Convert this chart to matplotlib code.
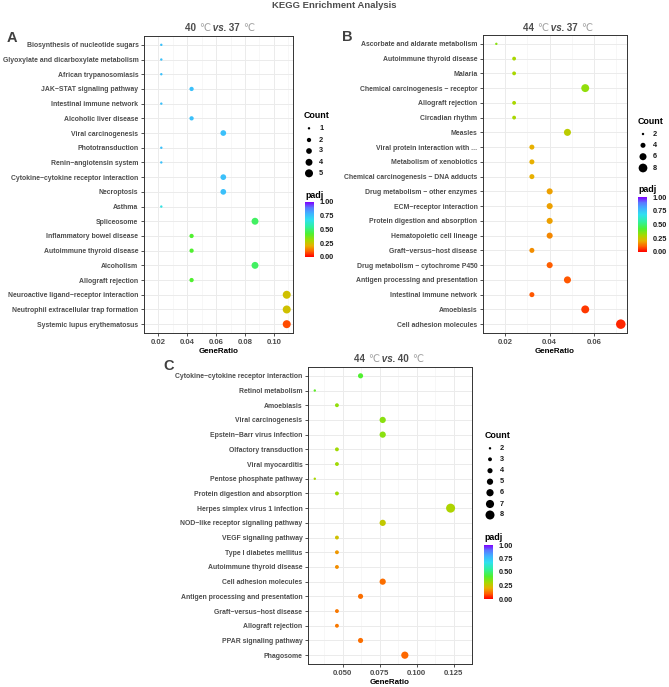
import matplotlib
matplotlib.use("Agg")
import matplotlib.pyplot as plt
import numpy as np
from matplotlib.cm import ScalarMappable
from matplotlib.colors import LinearSegmentedColormap, Normalize

W, H = 669, 687
GREY = "#4D4D4D"
plt.rcParams["font.family"] = ["Liberation Sans", "DejaVu Sans"]

# ---- panel A: 40 vs 37 ----
a_terms = [
    "Biosynthesis of nucleotide sugars",
    "Glyoxylate and dicarboxylate metabolism",
    "African trypanosomiasis",
    "JAK\u2212STAT signaling pathway",
    "Intestinal immune network",
    "Alcoholic liver disease",
    "Viral carcinogenesis",
    "Phototransduction",
    "Renin\u2212angiotensin system",
    "Cytokine\u2212cytokine receptor interaction",
    "Necroptosis",
    "Asthma",
    "Spliceosome",
    "Inflammatory bowel disease",
    "Autoimmune thyroid disease",
    "Alcoholism",
    "Allograft rejection",
    "Neuroactive ligand\u2212receptor interaction",
    "Neutrophil extracellular trap formation",
    "Systemic lupus erythematosus",
]
a_ratio = [0.022, 0.022, 0.022, 0.043, 0.022, 0.043, 0.065, 0.022, 0.022, 0.065,
           0.065, 0.022, 0.087, 0.043, 0.043, 0.087, 0.043, 0.109, 0.109, 0.109]
a_count = [1, 1, 1, 2, 1, 2, 3, 1, 1, 3, 3, 1, 4, 2, 2, 4, 2, 5, 5, 5]
a_padj = [0.76, 0.76, 0.76, 0.76, 0.76, 0.76, 0.76, 0.76, 0.76, 0.76,
          0.76, 0.66, 0.48, 0.42, 0.42, 0.48, 0.42, 0.24, 0.24, 0.08]
a_legend_counts = [1, 2, 3, 4, 5]

# ---- panel B: 44 vs 37 ----
b_terms = [
    "Ascorbate and aldarate metabolism",
    "Autoimmune thyroid disease",
    "Malaria",
    "Chemical carcinogenesis \u2212 receptor",
    "Allograft rejection",
    "Circadian rhythm",
    "Measles",
    "Viral protein interaction with ...",
    "Metabolism of xenobiotics",
    "Chemical carcinogenesis \u2212 DNA adducts",
    "Drug metabolism \u2212 other enzymes",
    "ECM\u2212receptor interaction",
    "Protein digestion and absorption",
    "Hematopoietic cell lineage",
    "Graft\u2212versus\u2212host disease",
    "Drug metabolism \u2212 cytochrome P450",
    "Antigen processing and presentation",
    "Intestinal immune network",
    "Amoebiasis",
    "Cell adhesion molecules",
]
b_ratio = [0.016, 0.024, 0.024, 0.056, 0.024, 0.024, 0.048, 0.032, 0.032, 0.032,
           0.040, 0.040, 0.040, 0.040, 0.032, 0.040, 0.048, 0.032, 0.056, 0.072]
b_count = [2, 3, 3, 7, 3, 3, 6, 4, 4, 4, 5, 5, 5, 5, 4, 5, 6, 4, 7, 9]
b_padj = [0.34, 0.30, 0.30, 0.33, 0.30, 0.30, 0.27, 0.20, 0.20, 0.20,
          0.18, 0.18, 0.18, 0.15, 0.16, 0.10, 0.09, 0.09, 0.06, 0.04]
b_legend_counts = [2, 4, 6, 8]

# ---- panel C: 44 vs 40 ----
c_terms = [
    "Cytokine\u2212cytokine receptor interaction",
    "Retinol metabolism",
    "Amoebiasis",
    "Viral carcinogenesis",
    "Epstein\u2212Barr virus infection",
    "Olfactory transduction",
    "Viral myocarditis",
    "Pentose phosphate pathway",
    "Protein digestion and absorption",
    "Herpes simplex virus 1 infection",
    "NOD\u2212like receptor signaling pathway",
    "VEGF signaling pathway",
    "Type I diabetes mellitus",
    "Autoimmune thyroid disease",
    "Cell adhesion molecules",
    "Antigen processing and presentation",
    "Graft\u2212versus\u2212host disease",
    "Allograft rejection",
    "PPAR signaling pathway",
    "Phagosome",
]
c_ratio = [0.062, 0.031, 0.046, 0.077, 0.077, 0.046, 0.046, 0.031, 0.046, 0.123,
           0.077, 0.046, 0.046, 0.046, 0.077, 0.062, 0.046, 0.046, 0.062, 0.092]
c_count = [4, 2, 3, 5, 5, 3, 3, 2, 3, 8, 5, 3, 3, 3, 5, 4, 3, 3, 4, 6]
c_padj = [0.42, 0.40, 0.33, 0.34, 0.34, 0.31, 0.31, 0.30, 0.31, 0.29,
          0.26, 0.24, 0.17, 0.16, 0.12, 0.12, 0.13, 0.13, 0.12, 0.11]
c_legend_counts = [2, 3, 4, 5, 6, 7, 8]

padj_ticks = [0.0, 0.25, 0.5, 0.75, 1.0]

cmap = LinearSegmentedColormap.from_list("padj", [
    (0.0, "#FF0000"), (0.1, "#FF6000"), (0.2, "#E8B000"), (0.3, "#A8D800"),
    (0.42, "#50F030"), (0.55, "#30F0A0"), (0.68, "#30E0F0"), (0.8, "#40B0FF"),
    (0.9, "#5A78FF"), (1.0, "#8000FF")])
norm = Normalize(0, 1)


def frect(left, top, right, bottom):
    # pixel box (from top-left) -> figure fraction rect
    return [left / W, 1 - bottom / H, (right - left) / W, (bottom - top) / H]


def dot_size(c, cmin, cmax, dmin=2.4, dmax=9.0):
    # area-style size scale, like ggplot's scale_size
    c = np.asarray(c, dtype=float)
    d = dmin + (np.sqrt(c) - np.sqrt(cmin)) / (np.sqrt(cmax) - np.sqrt(cmin)) * (dmax - dmin)
    return (d * 0.72) ** 2


def draw_panel(fig, rect, terms, ratio, count, padj, xticks, xfmt, cmin, cmax, dmax):
    ax = fig.add_axes(frect(*rect))
    y = np.arange(len(terms))
    ax.scatter(ratio, y, s=dot_size(count, cmin, cmax, dmax=dmax), c=padj,
               cmap=cmap, norm=norm, linewidths=0, zorder=3)
    lo, hi = min(ratio), max(ratio)
    ax.set_xlim(lo - 0.05 * (hi - lo), hi + 0.05 * (hi - lo))
    ax.set_ylim(len(terms) - 0.4, -0.6)
    ax.set_yticks(y)
    ax.set_yticklabels(terms, fontsize=4.95, fontweight="bold", color=GREY)
    ax.set_xticks(xticks)
    ax.set_xticklabels([xfmt.format(t) for t in xticks], fontsize=5.6,
                       fontweight="bold", color=GREY)
    step = xticks[1] - xticks[0]
    ax.set_xticks([t + step / 2 for t in xticks] + [xticks[0] - step / 2], minor=True)
    ax.tick_params(axis="both", which="major", length=2.5, width=0.6,
                   color="#333333", pad=1.5)
    ax.tick_params(axis="x", which="minor", length=0)
    ax.grid(which="major", color="#EBEBEB", linewidth=0.7, zorder=0)
    ax.grid(which="minor", axis="x", color="#F2F2F2", linewidth=0.4, zorder=0)
    ax.set_axisbelow(True)
    for sp in ax.spines.values():
        sp.set_color("#333333")
        sp.set_linewidth(0.7)
    ax.set_xlabel("GeneRatio", fontsize=5.8, fontweight="bold", labelpad=2)
    return ax


fig = plt.figure(figsize=(W / 100, H / 100), dpi=100)

draw_panel(fig, (144, 36, 293, 333), a_terms, a_ratio, a_count, a_padj,
           [0.02, 0.04, 0.06, 0.08, 0.10], "{:.2f}", 1, 5, 8.0)
draw_panel(fig, (483, 35, 627, 333), b_terms, b_ratio, b_count, b_padj,
           [0.02, 0.04, 0.06], "{:.2f}", 2, 9, 9.5)
draw_panel(fig, (308, 367, 472, 664), c_terms, c_ratio, c_count, c_padj,
           [0.050, 0.075, 0.100, 0.125], "{:.3f}", 2, 8, 9.0)

# overlay in pixel coordinates for titles and legends
overlay = fig.add_axes([0, 0, 1, 1], zorder=-1)
overlay.set_xlim(0, W)
overlay.set_ylim(H, 0)
overlay.axis("off")


def seq_title(x, y, left, right):
    parts = [(left + " ", GREY, "bold", "normal"), ("\u2103", "#9A9A9A", "normal", "normal"),
             (" vs.", GREY, "bold", "italic"), (" " + right + " ", GREY, "bold", "normal"),
             ("\u2103", "#9A9A9A", "normal", "normal")]
    prev = overlay.text(x, y, parts[0][0], color=parts[0][1], fontweight=parts[0][2],
                        fontstyle=parts[0][3], fontsize=7.1, va="center", ha="left")
    for txt, col, wt, st in parts[1:]:
        prev = overlay.annotate(txt, xy=(1, 0.5), xycoords=prev, va="center", ha="left",
                                color=col, fontweight=wt, fontstyle=st, fontsize=7.1,
                                annotation_clip=False)


def count_legend(x, y_title, ys, counts, cmin, cmax, dmax):
    overlay.text(x, y_title, "Count", fontsize=6.4, fontweight="bold", va="center")
    overlay.scatter([x + 5] * len(counts), ys, s=dot_size(counts, cmin, cmax, dmax=dmax),
                    color="black", linewidths=0)
    for yy, c in zip(ys, counts):
        overlay.text(x + 15, yy, str(c), fontsize=5.3, fontweight="bold", va="center",
                     color="#1A1A1A")


def padj_bar(x, y_title, top, bottom):
    overlay.text(x, y_title, "padj", fontsize=6.4, fontweight="bold", va="center")
    cax = fig.add_axes(frect(x, top, x + 9, bottom))
    cb = fig.colorbar(ScalarMappable(norm=norm, cmap=cmap), cax=cax, ticks=padj_ticks)
    cb.outline.set_visible(False)
    cax.set_yticklabels(["{:.2f}".format(t) for t in padj_ticks], fontsize=5.3,
                        fontweight="bold", color="#1A1A1A")
    cax.tick_params(length=2, color="white", width=0.5, pad=2)


seq_title(185, 28, "40", "37")
seq_title(523, 28, "44", "37")
seq_title(354, 359, "44", "40")

overlay.text(W / 2, 6, "KEGG Enrichment Analysis", ha="center", va="center",
             fontsize=6.8, fontweight="bold", color=GREY)
for letter, lx, ly in [("A", 7, 38), ("B", 342, 37), ("C", 163, 366)]:
    overlay.text(lx, ly, letter, fontsize=10.5, fontweight="bold", color="#404040",
                 va="center", ha="left")

count_legend(304, 115, [128.3, 140, 151, 162.3, 173.3], a_legend_counts, 1, 5, 8.0)
count_legend(638, 121, [134, 145.3, 156.7, 168], b_legend_counts, 2, 9, 9.5)
count_legend(485, 436, [448.3, 459.3, 470.7, 481.7, 492.7, 504, 515],
             c_legend_counts, 2, 8, 9.0)

padj_bar(305, 195, 202, 257)
padj_bar(638, 190, 197, 252)
padj_bar(484, 537, 545, 599)

fig.savefig("out.png", dpi=100)
